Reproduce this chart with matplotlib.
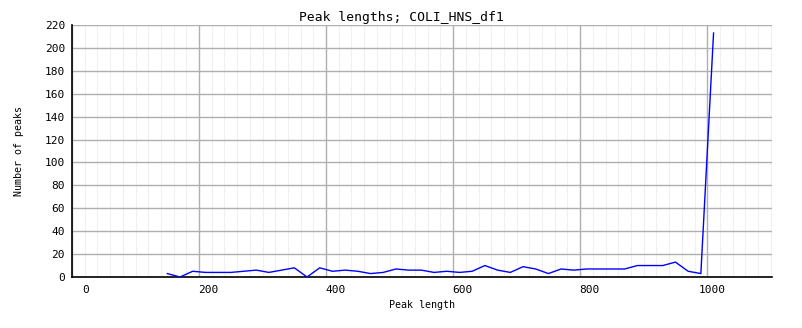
import numpy as np
import matplotlib
matplotlib.use('Agg')
import matplotlib.pyplot as plt
from matplotlib.ticker import MultipleLocator
from matplotlib.transforms import ScaledTranslation

# ── data ─────────────────────────────────────────────────────────────────────
peak_length = [150, 170, 190, 210, 230, 250, 270, 290, 310, 330, 350, 370,
               390, 410, 430, 450, 470, 490, 510, 530, 550, 570, 590, 610,
               630, 650, 670, 690, 710, 730, 750, 770, 790, 810, 830, 850,
               870, 890, 910, 930, 950, 970, 990, 1010]
n_peaks = [3, 0, 5, 4, 4, 4, 5, 6, 4, 6, 8, 0,
           8, 5, 6, 5, 3, 4, 7, 6, 6, 4, 5, 4,
           5, 10, 6, 4, 9, 7, 3, 7, 6, 7, 7, 7,
           7, 10, 10, 10, 13, 5, 3, 213]

xtick_vals = [0, 200, 400, 600, 800, 1000]
ytick_vals = list(range(0, 221, 20))

FONT = 'DejaVu Sans Mono'

fig = plt.figure(figsize=(8.02, 3.28), dpi=100)
ax = fig.add_axes([72 / 802, 51 / 328, 700 / 802, 252 / 328])

ax.plot(peak_length, n_peaks, color='#0000ff', linewidth=1.0, zorder=3)

ax.set_xlim(0, 1102)
ax.set_ylim(0, 220)

ax.xaxis.set_minor_locator(MultipleLocator(20))
ax.grid(True, which='minor', axis='x', color='#f0f0f0', linewidth=0.8, zorder=0)
ax.grid(True, which='major', axis='both', color='#b0b0b0', linewidth=1.0, zorder=1)

ax.set_xticks(xtick_vals)
ax.set_xticklabels([str(v) for v in xtick_vals], fontfamily=FONT, fontsize=8)
ax.set_yticks(ytick_vals)
ax.set_yticklabels([str(v) for v in ytick_vals], fontfamily=FONT, fontsize=8)
ax.tick_params(axis='both', which='both', length=0)
ax.tick_params(axis='x', pad=6)
ax.tick_params(axis='y', pad=5)

# x tick labels sit slightly right of their gridline in the original
for lab, v in zip(ax.get_xticklabels(), xtick_vals):
    dx = 14 if v == 0 else (5 if v == 1000 else 9)
    lab.set_transform(lab.get_transform() + ScaledTranslation(dx / 100, 0, fig.dpi_scale_trans))

for side in ('top', 'right'):
    ax.spines[side].set_visible(False)
for side in ('left', 'bottom'):
    ax.spines[side].set_color('black')
    ax.spines[side].set_linewidth(1.2)

ax.set_xlabel('Peak length', fontfamily=FONT, fontsize=7.2, labelpad=3)
ax.set_ylabel('Number of peaks', fontfamily=FONT, fontsize=7.2)
ax.yaxis.set_label_coords(-0.069, 0.5)
fig.text(0.5, 1 - 17 / 328, 'Peak lengths; COLI_HNS_df1', fontfamily=FONT,
         fontsize=9.4, ha='center', va='center')

fig.savefig('out.png', dpi=100)
